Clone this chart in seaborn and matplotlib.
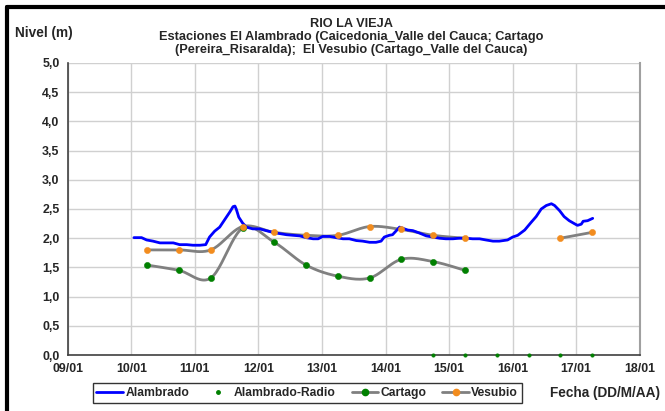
import numpy as np
import seaborn as sns
import matplotlib.pyplot as plt
from matplotlib.lines import Line2D

# Alambrado (continuous level record), day of January
alam_x = [10.04, 10.16, 10.24, 10.34, 10.45, 10.55, 10.66, 10.76, 10.87, 10.97, 11.08, 11.17,
          11.23, 11.31, 11.39, 11.47, 11.55, 11.60, 11.63, 11.65, 11.69, 11.75, 11.81, 11.91,
          12.02, 12.12, 12.23, 12.33, 12.44, 12.54, 12.65, 12.75, 12.86, 12.94, 13.01, 13.12,
          13.22, 13.33, 13.43, 13.54, 13.64, 13.75, 13.85, 13.93, 13.98, 14.06, 14.11, 14.17,
          14.22, 14.27, 14.35, 14.43, 14.53, 14.64, 14.74, 14.85, 14.95, 15.06, 15.16, 15.27,
          15.37, 15.48, 15.58, 15.69, 15.79, 15.92, 16.00, 16.08, 16.19, 16.29, 16.37, 16.45,
          16.53, 16.61, 16.66, 16.74, 16.81, 16.89, 16.97, 17.02, 17.08, 17.11, 17.18, 17.26]
alam_y = [2.01, 2.01, 1.97, 1.95, 1.92, 1.92, 1.92, 1.89, 1.89, 1.88, 1.88, 1.89,
          2.02, 2.12, 2.19, 2.32, 2.45, 2.54, 2.55, 2.50, 2.36, 2.26, 2.19, 2.16,
          2.16, 2.13, 2.10, 2.08, 2.06, 2.05, 2.04, 2.01, 1.99, 1.99, 2.03, 2.03,
          2.01, 1.99, 1.99, 1.96, 1.95, 1.93, 1.93, 1.95, 2.02, 2.05, 2.06, 2.13,
          2.19, 2.17, 2.14, 2.13, 2.09, 2.04, 2.02, 2.00, 1.99, 1.99, 2.00, 2.00,
          1.99, 1.99, 1.97, 1.95, 1.95, 1.97, 2.02, 2.05, 2.14, 2.27, 2.37, 2.50,
          2.56, 2.59, 2.56, 2.47, 2.37, 2.30, 2.25, 2.22, 2.24, 2.29, 2.30, 2.34]

# Alambrado-Radio
radio_x = [14.75, 15.25, 15.75, 16.25, 16.75, 17.25]
radio_y = [0.0, 0.0, 0.0, 0.0, 0.0, 0.0]

# Cartago
cart_x = [10.25, 10.75, 11.25, 11.75, 12.25, 12.75, 13.25, 13.75, 14.25, 14.75, 15.25]
cart_y = [1.54, 1.45, 1.32, 2.17, 1.93, 1.54, 1.35, 1.32, 1.64, 1.60, 1.45]

# Vesubio (two segments, gap between 15/01 and 16/01)
ves_x1 = [10.25, 10.75, 11.25, 11.75, 12.25, 12.75, 13.25, 13.75, 14.25, 14.75, 15.25]
ves_y1 = [1.80, 1.80, 1.80, 2.20, 2.10, 2.05, 2.05, 2.20, 2.15, 2.05, 2.00]
ves_x2 = [16.75, 17.25]
ves_y2 = [2.00, 2.10]

days = list(range(9, 19))
day_labels = [f"{d:02d}/01" for d in days]
yticks = [0.0, 0.5, 1.0, 1.5, 2.0, 2.5, 3.0, 3.5, 4.0, 4.5, 5.0]

BLUE = "#0000FF"
GREEN = "#008000"
ORANGE = "#F28C1E"
GRAY = "#808080"


def smooth(x, y, n=24):
    # Excel-like smoothed line (cubic Bezier through the points)
    p = np.column_stack([x, y]).astype(float)
    out = []
    for i in range(len(p) - 1):
        p0 = p[i - 1] if i > 0 else p[i]
        p1, p2 = p[i], p[i + 1]
        p3 = p[i + 2] if i + 2 < len(p) else p[i + 1]
        c1 = p1 + (p2 - p0) / 6
        c2 = p2 - (p3 - p1) / 6
        t = np.linspace(0, 1, n)[:, None]
        seg = (1 - t) ** 3 * p1 + 3 * (1 - t) ** 2 * t * c1 + 3 * (1 - t) * t ** 2 * c2 + t ** 3 * p2
        out.append(seg if i == 0 else seg[1:])
    s = np.vstack(out)
    return s[:, 0], s[:, 1]


sns.set_style("white")
plt.rcParams['font.family'] = ['Liberation Sans', 'DejaVu Sans']
plt.rcParams['font.weight'] = 'bold'

fig = plt.figure(figsize=(6.65, 4.11), dpi=100)
ax = fig.add_axes([0.102, 0.136, 0.860, 0.711])

ax.grid(True, color="#D0D0D0", linewidth=1.0)
ax.set_axisbelow(True)

for xs, ys in [(cart_x, cart_y), (ves_x1, ves_y1), (ves_x2, ves_y2)]:
    sx, sy = smooth(xs, ys)
    sns.lineplot(x=sx, y=sy, ax=ax, color=GRAY, linewidth=2.0, sort=False, estimator=None)

sns.lineplot(x=alam_x, y=alam_y, ax=ax, color=BLUE, linewidth=2.0, sort=False, estimator=None)
sns.scatterplot(x=cart_x, y=cart_y, ax=ax, color=GREEN, s=20, edgecolor=GREEN, zorder=5)
sns.scatterplot(x=ves_x1 + ves_x2, y=ves_y1 + ves_y2, ax=ax, color=ORANGE, s=20,
                edgecolor=ORANGE, zorder=5)
sns.scatterplot(x=radio_x, y=radio_y, ax=ax, color=GREEN, s=7, edgecolor=GREEN, zorder=6,
                clip_on=False)

ax.set_xlim(9, 18)
ax.set_ylim(0, 5)
ax.set_xticks(days)
ax.set_xticklabels(day_labels, fontsize=8.9, fontweight="bold")
ax.set_yticks(yticks)
ax.set_yticklabels([f"{v:.1f}".replace(".", ",") for v in yticks], fontsize=8.9, fontweight="bold")
ax.tick_params(axis="both", direction="out", length=3.5, width=1, color="#404040", pad=2.5)
ax.set_xlabel("")
ax.set_ylabel("")

for side in ["left", "bottom"]:
    ax.spines[side].set_color("#404040")
    ax.spines[side].set_linewidth(1.2)
ax.spines["top"].set_visible(False)
ax.spines["right"].set_color("#A0A0A0")
ax.spines["right"].set_linewidth(1.5)

fig.text(0.528, 0.941, "RIO LA VIEJA", ha="center", va="center", fontsize=9.2, fontweight="bold")
fig.text(0.528, 0.910, "Estaciones El Alambrado (Caicedonia_Valle del Cauca; Cartago",
         ha="center", va="center", fontsize=9.2, fontweight="bold")
fig.text(0.528, 0.879, "(Pereira_Risaralda);  El Vesubio (Cartago_Valle del Cauca)",
         ha="center", va="center", fontsize=9.2, fontweight="bold")
fig.text(0.022, 0.920, "Nivel (m)", ha="left", va="center", fontsize=9.8, fontweight="bold")
fig.text(0.993, 0.044, "Fecha (DD/M/AA)", ha="right", va="center", fontsize=9.8,
         fontweight="bold")

handles = [
    Line2D([], [], color=BLUE, linewidth=2),
    Line2D([], [], color=GREEN, linestyle="none", marker="o", markersize=2.5),
    Line2D([], [], color=GRAY, linewidth=2, marker="o", markersize=4.5,
           markerfacecolor=GREEN, markeredgecolor=GREEN),
    Line2D([], [], color=GRAY, linewidth=2, marker="o", markersize=4.5,
           markerfacecolor=ORANGE, markeredgecolor=ORANGE),
]
labels = ["Alambrado", "Alambrado-Radio", "Cartago", "Vesubio"]
leg = fig.legend(handles, labels, loc="center", bbox_to_anchor=(0.462, 0.044), ncol=4,
                 fontsize=8.7, frameon=True, fancybox=False, edgecolor="black",
                 handlelength=2.2, handletextpad=0.2, columnspacing=1.3, borderpad=0.3)
leg.get_frame().set_linewidth(1.0)
for t in leg.get_texts():
    t.set_fontweight("bold")

# outer chart frame (left and top edges visible in the reference)
fig.add_artist(Line2D([0.0105, 0.0105], [0.0, 0.983], transform=fig.transFigure,
                      color="black", linewidth=3.0))
fig.add_artist(Line2D([0.0105, 1.0], [0.983, 0.983], transform=fig.transFigure,
                      color="black", linewidth=3.0))

fig.savefig("out.png", dpi=100)
